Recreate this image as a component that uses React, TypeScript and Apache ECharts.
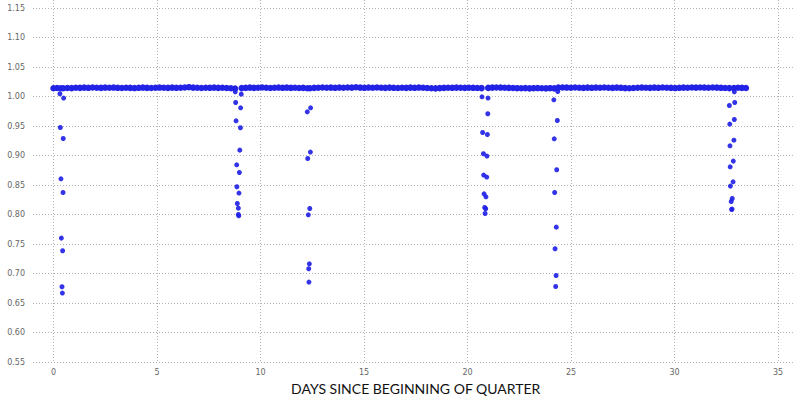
import React, { useEffect, useRef } from "react";
import * as echarts from "echarts";

// Axis ticks
const xTicks = [0, 5, 10, 15, 20, 25, 30, 35];
const yMin = 0.55;
const yMax = 1.15;
const yStep = 0.05;
const xTitle = "DAYS SINCE BEGINNING OF QUARTER";

// Baseline readings: each segment is [startDay, endDay] with evenly spaced readings
const segRanges: [number, number][] = [
  [0.0, 0.35],
  [0.47, 8.77],
  [9.09, 12.26],
  [12.39, 20.68],
  [21.0, 24.19],
  [24.39, 32.65],
  [32.87, 33.45],
];
const seg1 = [1.014, 1.0145, 1.014];
const seg2 = [
  1.014, 1.0145, 1.0142, 1.0148, 1.0146, 1.015, 1.0147, 1.0152, 1.0149, 1.0146,
  1.015, 1.0148, 1.0151, 1.0147, 1.0145, 1.0149, 1.0146, 1.0143, 1.0147, 1.015,
  1.0146, 1.0144, 1.0148, 1.0151, 1.0149, 1.0146, 1.015, 1.0147, 1.0149, 1.0152,
  1.0158, 1.015, 1.0148, 1.0145, 1.0149, 1.0147, 1.015, 1.0146, 1.0148, 1.0144,
  1.014, 1.0135,
];
const seg3 = [
  1.0142, 1.0147, 1.015, 1.0146, 1.0149, 1.0152, 1.0148, 1.0145, 1.0149, 1.0151,
  1.0147, 1.015, 1.0146, 1.0148, 1.0144, 1.0146, 1.014,
];
const seg4 = [
  1.014, 1.0146, 1.0149, 1.0152, 1.0148, 1.015, 1.0147, 1.0151, 1.0149, 1.0153,
  1.015, 1.0156, 1.015, 1.0147, 1.0151, 1.0148, 1.0152, 1.0149, 1.0146, 1.015,
  1.0147, 1.0145, 1.0149, 1.0146, 1.015, 1.0147, 1.0151, 1.0148, 1.0144, 1.014,
  1.0138, 1.0142, 1.0146, 1.0149, 1.0147, 1.015, 1.0148, 1.0146, 1.0149, 1.0147,
  1.0145, 1.0142,
];
const seg5 = [
  1.0146, 1.015, 1.0153, 1.0151, 1.0148, 1.0146, 1.0144, 1.0141, 1.0139, 1.0142,
  1.0138, 1.0141, 1.0143, 1.014, 1.0138, 1.0141, 1.0138,
];
const seg6 = [
  1.015, 1.0153, 1.0151, 1.0148, 1.0152, 1.0149, 1.0146, 1.015, 1.0147, 1.0151,
  1.0148, 1.0152, 1.0149, 1.0146, 1.015, 1.0147, 1.0142, 1.014, 1.0144, 1.0148,
  1.0151, 1.0149, 1.0146, 1.015, 1.0147, 1.0152, 1.0149, 1.0146, 1.0143, 1.0147,
  1.015, 1.0148, 1.0152, 1.015, 1.0153, 1.0151, 1.0149, 1.0152, 1.015, 1.0147,
  1.0145, 1.0142,
];
const seg7 = [1.0145, 1.0148, 1.0146, 1.0145];
const baselineSegments = [seg1, seg2, seg3, seg4, seg5, seg6, seg7];

// Drop events: [day, value]
const drop1: [number, number][] = [
  [0.31, 1.0046], [0.49, 0.9973], [0.33, 0.9475], [0.47, 0.9288], [0.36, 0.8605],
  [0.46, 0.8373], [0.38, 0.76], [0.44, 0.7385], [0.41, 0.6775], [0.43, 0.6668],
];
const drop2: [number, number][] = [
  [8.78, 1.008], [9.07, 1.004], [8.8, 0.9898], [9.04, 0.9808], [8.82, 0.9588],
  [9.03, 0.947], [9.0, 0.9091], [8.85, 0.8842], [8.98, 0.8712], [8.86, 0.847],
  [8.96, 0.8363], [8.88, 0.8187], [8.93, 0.8108], [8.93, 0.8], [8.95, 0.7978],
];
const drop3: [number, number][] = [
  [12.42, 0.9808], [12.26, 0.974], [12.41, 0.9058], [12.28, 0.8949], [12.38, 0.8102],
  [12.31, 0.7995], [12.36, 0.7164], [12.33, 0.708], [12.34, 0.6854],
];
const drop4: [number, number][] = [
  [20.7, 0.9995], [20.99, 0.9973], [20.98, 0.9707], [20.73, 0.939], [20.96, 0.9356],
  [20.77, 0.9029], [20.94, 0.899], [20.78, 0.8668], [20.93, 0.8634], [20.8, 0.835],
  [20.89, 0.83], [20.83, 0.8119], [20.88, 0.8097], [20.85, 0.8017],
];
const drop5: [number, number][] = [
  [24.36, 1.0085], [24.17, 0.9944], [24.34, 0.9593], [24.19, 0.9283], [24.31, 0.8758],
  [24.21, 0.8373], [24.29, 0.7786], [24.23, 0.7419], [24.28, 0.6966], [24.26, 0.678],
];
const drop6: [number, number][] = [
  [32.89, 1.008], [32.65, 0.9847], [32.91, 0.9898], [32.67, 0.9532], [32.89, 0.961],
  [32.68, 0.9164], [32.87, 0.926], [32.69, 0.8808], [32.84, 0.8905], [32.7, 0.8481],
  [32.83, 0.8554], [32.79, 0.8271], [32.74, 0.822], [32.78, 0.8092], [32.76, 0.8085],
];
const drops = [drop1, drop2, drop3, drop4, drop5, drop6];

export default function App() {
  const ref = useRef<HTMLDivElement>(null);
  useEffect(() => {
    if (!ref.current) return;
    const chart = echarts.init(ref.current, null, { renderer: "svg" });

    const band: [number, number][] = [];
    baselineSegments.forEach((vals, si) => {
      const [a, b] = segRanges[si];
      const n = vals.length;
      vals.forEach((v, i) => {
        band.push([n > 1 ? a + ((b - a) * i) / (n - 1) : a, v]);
      });
    });
    const dropPts: [number, number][] = [];
    drops.forEach((d) => d.forEach((p) => dropPts.push(p)));

    const gridLine = { show: true, lineStyle: { color: "#b4b4b4", type: [1, 2] as any, width: 1 } };
    const dotColor = "#2222e6";

    chart.setOption({
      animation: false,
      backgroundColor: "#ffffff",
      grid: [
        { left: 33, right: 5, top: 8, bottom: 38 },
        { left: 53.5, right: 22, top: 0, bottom: 28 },
        { left: 53.5, right: 22, top: 8, bottom: 38 },
      ],
      xAxis: [
        { gridIndex: 0, type: "value", min: 0, max: 1, show: false },
        {
          gridIndex: 1,
          type: "value",
          min: xTicks[0],
          max: xTicks[xTicks.length - 1],
          interval: 5,
          axisLine: { show: false },
          axisTick: { show: false },
          splitLine: gridLine,
          axisLabel: { color: "#666", fontSize: 8, margin: 6, fontFamily: "DejaVu Sans" },
          name: xTitle,
          nameLocation: "middle",
          nameGap: 14,
          nameTextStyle: { color: "#111", fontSize: 14, fontFamily: "Lato" },
        },
        { gridIndex: 2, type: "value", min: xTicks[0], max: xTicks[xTicks.length - 1], show: false },
      ],
      yAxis: [
        {
          gridIndex: 0,
          type: "value",
          min: yMin,
          max: yMax,
          interval: yStep,
          axisLine: { show: false },
          axisTick: { show: false },
          splitLine: gridLine,
          axisLabel: {
            color: "#666",
            fontSize: 8,
            margin: 8,
            fontFamily: "DejaVu Sans",
            formatter: (v: number) => v.toFixed(2),
          },
        },
        { gridIndex: 1, type: "value", min: 0, max: 1, show: false },
        { gridIndex: 2, type: "value", min: yMin, max: yMax, show: false },
      ],
      series: [
        {
          type: "scatter",
          xAxisIndex: 2,
          yAxisIndex: 2,
          data: band,
          symbolSize: 6.5,
          itemStyle: { color: dotColor, opacity: 1 },
        },
        {
          type: "scatter",
          xAxisIndex: 2,
          yAxisIndex: 2,
          data: dropPts,
          symbolSize: 5,
          itemStyle: { color: dotColor, opacity: 0.92 },
        },
      ],
    });
    return () => chart.dispose();
  }, []);
  return (
    <div
      ref={ref}
      style={{ position: "fixed", left: 0, top: 0, width: 800, height: 400 }}
    />
  );
}
